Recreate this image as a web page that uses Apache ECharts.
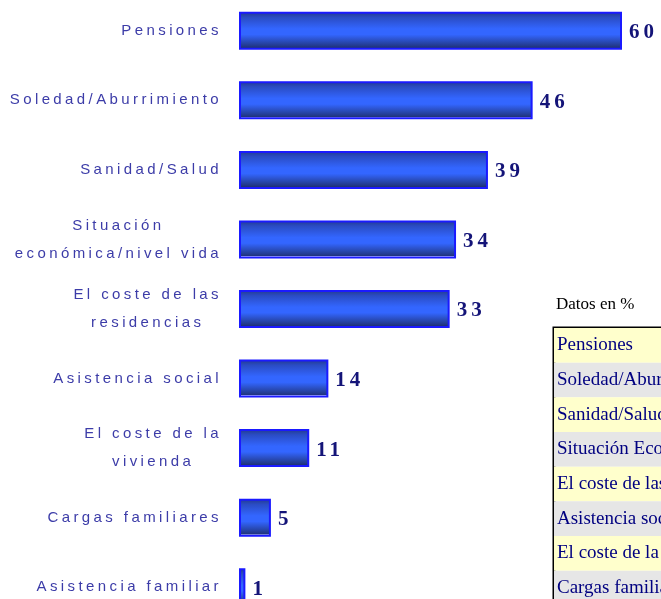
<!DOCTYPE html>
<html>
<head>
<meta charset="utf-8">
<script src="https://cdn.jsdelivr.net/npm/echarts@6/dist/echarts.min.js"></script>
<style>
    html, body { margin: 0; padding: 0; background: #fff; }
    #chart { width: 661px; height: 599px; }
</style>
</head>
<body>
<div id="chart"></div>
<script>
var categories = ['Pensiones', 'Soledad/Aburrimiento', 'Sanidad/Salud', 'Situación\neconómica/nivel vida',
    'El coste de las\nresidencias', 'Asistencia social', 'El coste de la\nvivienda', 'Cargas familiares', 'Asistencia familiar'];
var values = [60, 46, 39, 34, 33, 14, 11, 5, 1];
var tableRows = ['Pensiones', 'Soledad/Aburrimiento', 'Sanidad/Salud', 'Situación Económica/nivel vida',
    'El coste de las residencias', 'Asistencia social', 'El coste de la vivienda', 'Cargas familiares', 'Asistencia familiar'];

// el original tiene las etiquetas espaciadas: letterSpacing en canvas (medida y dibujo)
function spacingFor(font) {
    if (/Arial/.test(font)) return '3.4px';
    if (/Times/.test(font) && /bold|700/.test(font)) return '4px';
    return '0px';
}
['fillText', 'strokeText', 'measureText'].forEach(function (fn) {
    var orig = CanvasRenderingContext2D.prototype[fn];
    CanvasRenderingContext2D.prototype[fn] = function () {
        if ('letterSpacing' in this) this.letterSpacing = spacingFor(this.font);
        return orig.apply(this, arguments);
    };
});

var chart = echarts.init(document.getElementById('chart'));

var barColor = new echarts.graphic.LinearGradient(0, 0, 0, 1, [
    {offset: 0, color: '#22398a'},
    {offset: 0.15, color: '#2a4cc4'},
    {offset: 0.45, color: '#3366ff'},
    {offset: 0.6, color: '#3366ff'},
    {offset: 0.9, color: '#22398a'},
    {offset: 0.94, color: '#1e3278'},
    {offset: 0.945, color: '#dfe6ff'},
    {offset: 1, color: '#dfe6ff'}
]);

var option = {
    animation: false,
    title: {
        text: 'Datos en %',
        left: 556,
        top: 296,
        padding: 0,
        textStyle: {fontFamily: 'Times New Roman', fontWeight: 'normal', fontSize: 17, color: '#000'}
    },
    grid: [
        {left: 239, top: -4, width: 383, height: 626, outerBoundsMode: 'none'},
        {left: 554, top: 328, width: 400, height: 312, outerBoundsMode: 'none',
            show: true, borderColor: '#000', borderWidth: 3}
    ],
    xAxis: [
        {gridIndex: 0, type: 'value', min: 0, max: 60, show: false},
        {gridIndex: 1, type: 'value', min: 0, max: 1, show: false}
    ],
    yAxis: [
        {
            gridIndex: 0,
            type: 'category',
            inverse: true,
            data: categories,
            axisLine: {show: false},
            axisTick: {show: false},
            axisLabel: {
                margin: 17,
                formatter: function (v) {
                    return v.split('\n').map(function (s) { return '{c|' + s + '}'; }).join('\n');
                },
                rich: {
                    c: {align: 'center', color: '#3c3ca8', fontFamily: 'Arial', fontSize: 15, lineHeight: 28}
                }
            }
        },
        {
            gridIndex: 1,
            type: 'category',
            inverse: true,
            data: tableRows,
            axisLine: {show: false},
            axisTick: {show: false},
            splitArea: {show: true, areaStyle: {color: ['#ffffcc', '#e6e6e6']}},
            axisLabel: {
                inside: true,
                margin: 3,
                align: 'left',
                color: '#000080',
                fontFamily: 'Times New Roman',
                fontSize: 19
            }
        }
    ],
    series: [
        {
            type: 'bar',
            xAxisIndex: 0,
            yAxisIndex: 0,
            data: values,
            barWidth: 38,
            silent: true,
            itemStyle: {color: barColor, borderColor: '#1a1aff', borderWidth: 2},
            label: {
                show: true,
                position: 'right',
                distance: 7,
                offset: [0, 2],
                color: '#141478',
                fontFamily: 'Times New Roman',
                fontWeight: 'bold',
                fontSize: 21
            }
        },
        {
            type: 'bar',
            xAxisIndex: 1,
            yAxisIndex: 1,
            data: []
        }
    ]
};
chart.setOption(option);
</script>
</body>
</html>
